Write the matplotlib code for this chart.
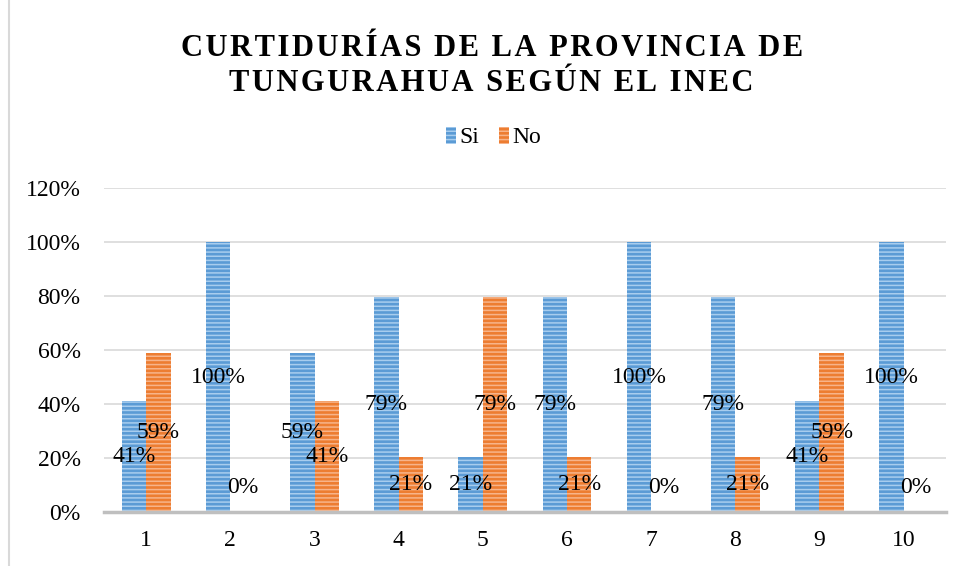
import numpy as np
import matplotlib
matplotlib.use("Agg")
import matplotlib.pyplot as plt
from matplotlib.patches import Patch
from matplotlib.lines import Line2D

categories = ["1", "2", "3", "4", "5", "6", "7", "8", "9", "10"]
si = [0.41, 1.00, 0.59, 0.795, 0.205, 0.795, 1.00, 0.795, 0.41, 1.00]
no = [0.59, 0.00, 0.41, 0.205, 0.795, 0.205, 0.00, 0.205, 0.59, 0.00]
si_labels = ["41%", "100%", "59%", "79%", "21%", "79%", "100%", "79%", "41%", "100%"]
no_labels = ["59%", "0%", "41%", "21%", "79%", "21%", "0%", "21%", "59%", "0%"]
title = "CURTIDURÍAS DE LA PROVINCIA DE\nTUNGURAHUA SEGÚN EL INEC"

serif = ["Liberation Serif", "DejaVu Serif"]
plt.rcParams["font.family"] = serif
plt.rcParams["hatch.linewidth"] = 1.1

blue, blue_h = "#5b9bd5", "#a8cdee"
orange, orange_h = "#ed7d31", "#f7b48a"
fs = 17

fig = plt.figure(figsize=(9.64, 5.66), dpi=100)
ax = fig.add_axes([0.108, 0.0954, 0.873, 0.5724])

x = np.arange(len(categories))
w = 0.29
ax.bar(x - w/2, si, w, color=blue, edgecolor=blue_h, linewidth=0, hatch="----")
ax.bar(x + w/2, no, w, color=orange, edgecolor=orange_h, linewidth=0, hatch="----")

# labels in the middle of each bar, like excel "center"
for xs, vals, labs in [(x - w/2, si, si_labels), (x + w/2, no, no_labels)]:
    for xi, v, lab in zip(xs, vals, labs):
        ax.text(xi, max(v / 2, 0.09), lab, ha="center", va="center",
                fontsize=fs, color="black")

ax.set_ylim(0, 1.2)
ax.set_xlim(-0.5, len(categories) - 0.5)
ticks = np.arange(0, 1.21, 0.2)
ax.set_yticks(ticks)
ax.set_yticklabels(["{:.0f}%".format(t * 100) for t in ticks])
ax.set_xticks(x)
ax.set_xticklabels(categories)
ax.tick_params(axis="both", length=0, labelsize=fs, colors="black")
ax.tick_params(axis="y", pad=17)
ax.tick_params(axis="x", pad=13)
ax.yaxis.grid(True, color="#d9d9d9", linewidth=1.2)
ax.set_axisbelow(True)
for s in ["top", "right", "left"]:
    ax.spines[s].set_visible(False)
ax.spines["bottom"].set_color("#bfbfbf")
ax.spines["bottom"].set_linewidth(2.5)

# title with extra letter spacing
spaced = "\n".join("\u200a".join(line) for line in title.split("\n"))
fig.text(0.51, 0.884, spaced, ha="center", va="center", fontsize=22,
         fontweight="bold", linespacing=1.28, family=serif)

handles = [Patch(facecolor=blue, edgecolor=blue_h, linewidth=0, hatch="----"),
           Patch(facecolor=orange, edgecolor=orange_h, linewidth=0, hatch="----")]
fig.legend(handles, ["Si", "No"], loc="center", bbox_to_anchor=(0.512, 0.757), ncol=2,
           frameon=False, fontsize=fs, handlelength=0.45, handleheight=0.75,
           handletextpad=0.15, columnspacing=0.8)

# chart area border on the left
fig.add_artist(Line2D([0.0095, 0.0095], [0, 1], color="#d9d9d9", linewidth=1.5,
                      transform=fig.transFigure))

plt.savefig("out.png", dpi=100)
